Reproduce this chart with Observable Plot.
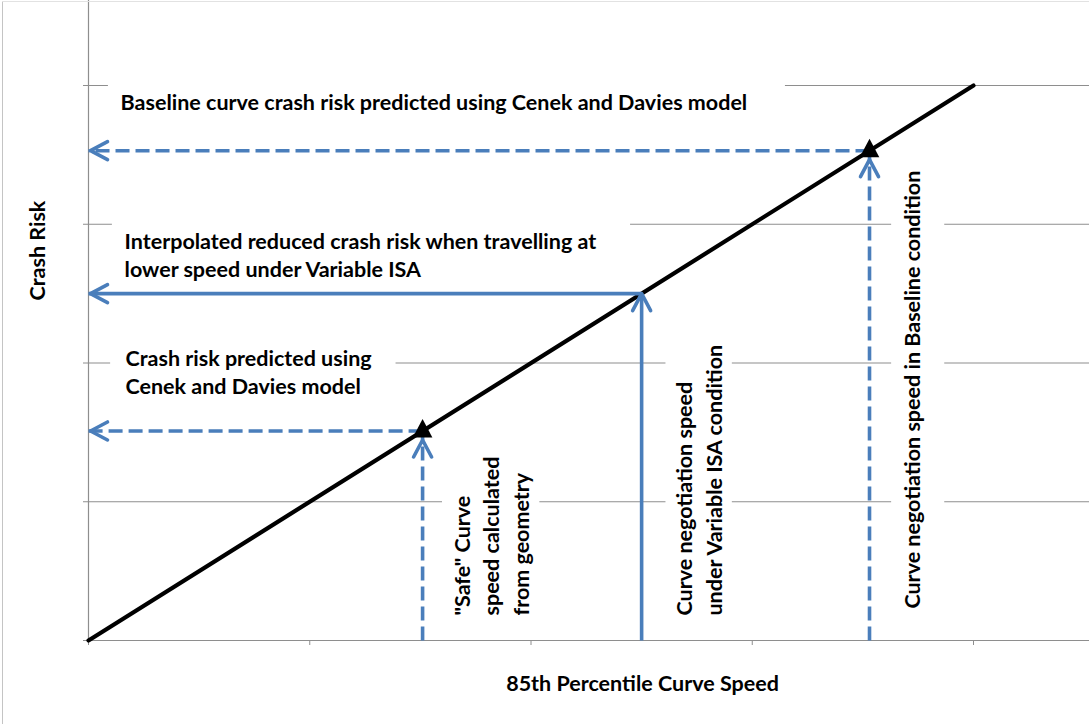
<!DOCTYPE html>
<html>
<head>
<meta charset="utf-8">
<script src="https://cdn.jsdelivr.net/npm/d3@7"></script>
<script src="https://cdn.jsdelivr.net/npm/@observablehq/plot@0.6"></script>
<style>
  html, body { margin: 0; padding: 0; background: #fff; }
  #wrap { position: relative; width: 1089px; height: 724px; overflow: hidden; }
  #wrap svg { position: absolute; left: 0; top: 0; }
  .bl { position: absolute; left: 2px; top: 1px; width: 1px; height: 723px; background: #c4c4c4; }
  .bt { position: absolute; left: 2px; top: 1px; width: 1087px; height: 1px; background: #e2e2e2; }
</style>
</head>
<body>
<div id="wrap"></div>
<script>
// ---- data ----
const caseNames = ["Safe curve speed", "Variable ISA speed", "Baseline speed"];
const caseSpeed = [1.51, 2.5, 3.53];   // 85th percentile curve speed (x)
const caseRisk  = [1.51, 2.5, 3.53];   // crash risk (y)
const caseStyle = ["dashed", "solid", "dashed"];
const caseMarker = [true, false, true];

const lineSpeed = [0, 4];
const lineRisk  = [0, 4];

const xTicks = [0, 1, 2, 3, 4];
const yTicks = [0, 1, 2, 3, 4];

const labelText = [
  "Baseline curve crash risk predicted using Cenek and Davies model",
  "Interpolated reduced crash risk when travelling at\nlower speed under Variable ISA",
  "Crash risk predicted using\nCenek and Davies model",
  "\"Safe\" Curve\nspeed calculated\nfrom geometry",
  "Curve negotiation speed\nunder Variable ISA condition",
  "Curve negotiation speed in Baseline condition"
];
// anchor of each label (data units)
const labelX = [0.145, 0.163, 0.167, 1.99, 2.862, 3.756];
const labelY = [3.82, 2.623, 1.78, 0.18, 0.18, 0.23];
const labelVertical = [false, false, false, true, true, true];
// white text-box extents behind labels (data units)
const boxX1 = [0.09, 0.108, 0.10, 1.60, 2.61, 3.63];
const boxX2 = [3.15, 2.45, 1.39, 2.04, 2.91, 3.87];
const boxY1 = [3.69, 2.45, 1.73, 0.07, 0.07, 0.07];
const boxY2 = [4.05, 3.06, 2.16, 1.87, 2.23, 3.46];

// ---- tables ----
const cases = caseNames.map((n, i) => ({name: n, speed: caseSpeed[i], risk: caseRisk[i], style: caseStyle[i], marker: caseMarker[i]}));
const dashed = cases.filter(d => d.style === "dashed");
const solid = cases.filter(d => d.style === "solid");
const line = lineSpeed.map((s, i) => ({speed: s, risk: lineRisk[i]}));
const labels = labelText.map((t, i) => ({text: t, x: labelX[i], y: labelY[i], vertical: labelVertical[i],
  x1: boxX1[i], x2: boxX2[i], y1: boxY1[i], y2: boxY2[i]}));

const blue = "#4A7EBB";
const gridColor = "#8e8e8e";
const font = "Lato, 'Open Sans', sans-serif";
const fs = 21.5;

const chevronLeft = {draw(ctx) { ctx.moveTo(19, -9); ctx.lineTo(2, 0); ctx.lineTo(19, 9); }};
const chevronUp = {draw(ctx) { ctx.moveTo(-9, 17); ctx.lineTo(0, 0); ctx.lineTo(9, 17); }};
const triangle = {draw(ctx) { ctx.moveTo(0, -12); ctx.lineTo(9.8, 6.5); ctx.lineTo(-9.8, 6.5); ctx.closePath(); }};

const chart = Plot.plot({
  width: 1089,
  height: 724,
  marginLeft: 88,
  marginRight: 0,
  marginTop: 0,
  marginBottom: 84,
  style: {fontFamily: font, background: "transparent"},
  x: {domain: [0, 1001 / 221.25]},
  y: {domain: [0, 640 / 138.75]},
  marks: [
    Plot.gridY(yTicks.filter(d => d > 0), {stroke: gridColor, strokeOpacity: 1, strokeWidth: 1.2}),
    Plot.rect(labels, {x1: "x1", x2: "x2", y1: "y1", y2: "y2", fill: "white"}),
    Plot.axisY(yTicks, {tickSize: 5, tickFormat: () => "", stroke: gridColor, label: null}),
    Plot.axisX(xTicks, {tickSize: 5, tickFormat: () => "", stroke: gridColor, label: null}),
    Plot.ruleX([0], {stroke: gridColor, strokeWidth: 1.2}),
    Plot.ruleY([0], {stroke: gridColor, strokeWidth: 1.2}),
    Plot.line(line, {x: "speed", y: "risk", stroke: "black", strokeWidth: 4.2}),
    // dashed arrows
    Plot.link(dashed, {x1: "speed", x2: d => 0, y1: "risk", y2: "risk", stroke: blue, strokeWidth: 3.6, strokeDasharray: "14,6"}),
    Plot.link(dashed, {x1: "speed", x2: "speed", y1: d => 0, y2: "risk", stroke: blue, strokeWidth: 3.6, strokeDasharray: "14,6"}),
    // solid arrows
    Plot.link(solid, {x1: "speed", x2: d => 0, y1: "risk", y2: "risk", stroke: blue, strokeWidth: 3.6}),
    Plot.link(solid, {x1: "speed", x2: "speed", y1: d => 0, y2: "risk", stroke: blue, strokeWidth: 3.6}),
    // arrowheads
    Plot.dot(cases, {x: d => 0, y: "risk", symbol: chevronLeft, fill: "none", stroke: blue, strokeWidth: 3.6, strokeLinecap: "round", strokeLinejoin: "round"}),
    Plot.dot(dashed, {x: "speed", y: "risk", dy: 9, symbol: chevronUp, fill: "none", stroke: blue, strokeWidth: 3.6, strokeLinecap: "round", strokeLinejoin: "round"}),
    Plot.dot(solid, {x: "speed", y: "risk", symbol: chevronUp, fill: "none", stroke: blue, strokeWidth: 3.6, strokeLinecap: "round", strokeLinejoin: "round"}),
    // triangle markers
    Plot.dot(cases.filter(d => d.marker), {x: "speed", y: "risk", symbol: triangle, fill: "black", stroke: "none"}),
    // annotations
    Plot.text(labels.filter(d => !d.vertical), {x: "x", y: "y", text: "text", textAnchor: "start", lineAnchor: "bottom", lineHeight: 28 / fs, fontSize: fs, fontWeight: "bold", fill: "black"}),
    Plot.text(labels.filter(d => d.vertical), {x: "x", y: "y", text: "text", textAnchor: "start", lineAnchor: "bottom", lineHeight: 29.5 / fs, rotate: -90, fontSize: fs, fontWeight: "bold", fill: "black"}),
    // axis titles
    Plot.text(["Crash Risk"], {frameAnchor: "left", dx: -50, dy: -20, rotate: -90, fontSize: fs, fontWeight: "bold", fill: "black"}),
    Plot.text(["85th Percentile Curve Speed"], {frameAnchor: "bottom", dx: 53.5, dy: 50, fontSize: fs, fontWeight: "bold", fill: "black"})
  ]
});

const wrap = document.getElementById("wrap");
wrap.appendChild(chart);
const bl = document.createElement("div"); bl.className = "bl"; wrap.appendChild(bl);
const bt = document.createElement("div"); bt.className = "bt"; wrap.appendChild(bt);
</script>
</body>
</html>
